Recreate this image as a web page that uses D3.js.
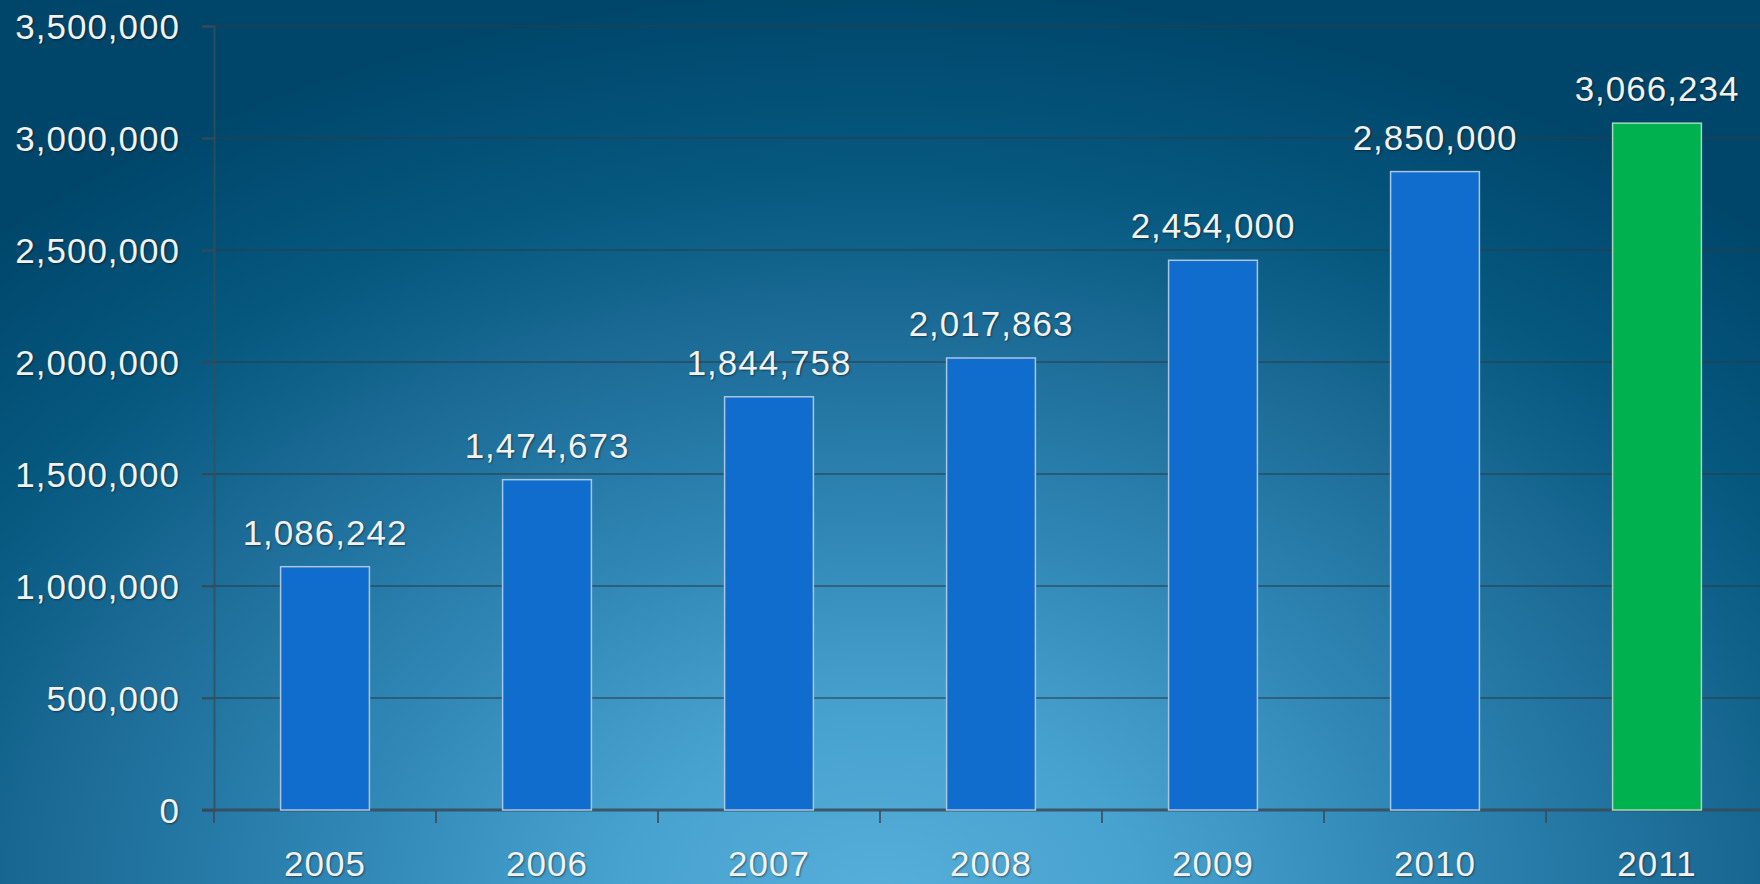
<!DOCTYPE html>
<html>
<head>
<meta charset="utf-8">
<script src="https://cdn.jsdelivr.net/npm/d3@7"></script>
<style>
  html, body { margin: 0; padding: 0; overflow: hidden; background: #0a5880; }
  svg text { font-family: "Liberation Sans", Arial, sans-serif; fill: #f2f2f2; letter-spacing: 1px;
             text-shadow: 1px 1px 2px rgba(0,0,0,0.45); }
</style>
</head>
<body>
<div id="wrapper"></div>
<script>
const years = ["2005", "2006", "2007", "2008", "2009", "2010", "2011"];
const visitors = [1086242, 1474673, 1844758, 2017863, 2454000, 2850000, 3066234];
const yTicks = [0, 500000, 1000000, 1500000, 2000000, 2500000, 3000000, 3500000];

function buildChart() {
    const dimension = {
        width: 1760,
        height: 884,
        margin: { top: 26, left: 214, bottom: 74, right: -8 }
    };
    dimension.boundedWidth = dimension.width - dimension.margin.left - dimension.margin.right;
    dimension.boundedHeight = dimension.height - dimension.margin.top - dimension.margin.bottom;

    const svg = d3.select("#wrapper").append("svg")
        .attr("width", dimension.width)
        .attr("height", dimension.height)
        .style("display", "block");

    // background: light glow at bottom centre fading to navy
    const defs = svg.append("defs");
    const bg = defs.append("radialGradient")
        .attr("id", "bg")
        .attr("gradientUnits", "userSpaceOnUse")
        .attr("cx", 880).attr("cy", 900).attr("r", 1300)
        .attr("gradientTransform", "translate(880,900) scale(1,0.7) translate(-880,-900)");
    [[0, "#56aed9"], [0.2, "#48a2cf"], [0.42, "#2f86b4"], [0.62, "#1d6d98"],
     [0.8, "#06587f"], [1, "#00466b"]].forEach(s =>
        bg.append("stop").attr("offset", s[0]).attr("stop-color", s[1]));
    svg.append("rect").attr("width", dimension.width).attr("height", dimension.height)
        .attr("fill", "url(#bg)");

    const bounded = svg.append("g")
        .attr("transform", `translate(${dimension.margin.left},${dimension.margin.top})`);

    const xScaler = d3.scaleBand()
        .domain(years)
        .range([0, dimension.boundedWidth])
        .paddingInner(0.6)
        .paddingOuter(0.3);

    const yScaler = d3.scaleLinear()
        .domain([0, 3500000])
        .range([dimension.boundedHeight, 0]);

    // gridlines
    bounded.append("g")
        .selectAll("line")
        .data(yTicks.slice(1))
        .join("line")
        .attr("x1", -12).attr("x2", dimension.boundedWidth)
        .attr("y1", d => yScaler(d)).attr("y2", d => yScaler(d))
        .attr("stroke", "rgba(45,60,72,0.55)")
        .attr("stroke-width", 2);

    // y axis
    const yAxis = d3.axisLeft(yScaler)
        .tickValues(yTicks)
        .tickSize(12)
        .tickPadding(22)
        .tickFormat(d3.format(","));
    const yG = bounded.append("g").call(yAxis);
    yG.select(".domain").attr("stroke", "rgba(60,75,85,0.8)").attr("stroke-width", 2);
    yG.selectAll(".tick line").attr("stroke", "rgba(60,75,85,0.8)").attr("stroke-width", 2);
    yG.selectAll(".tick text").style("font-size", "35px").attr("dy", "0.36em");

    // x axis: ticks between categories
    const step = xScaler.step();
    const xG = bounded.append("g")
        .attr("transform", `translate(0,${dimension.boundedHeight})`);
    xG.append("line")
        .attr("x1", -12).attr("x2", dimension.boundedWidth)
        .attr("stroke", "rgba(55,75,88,0.85)").attr("stroke-width", 3);
    xG.selectAll(".sep")
        .data(d3.range(0, years.length + 1))
        .join("line")
        .attr("class", "sep")
        .attr("x1", i => i * step).attr("x2", i => i * step)
        .attr("y1", 0).attr("y2", 13)
        .attr("stroke", "rgba(60,75,85,0.8)").attr("stroke-width", 2);
    xG.selectAll(".yr")
        .data(years)
        .join("text")
        .attr("class", "yr")
        .attr("x", d => xScaler(d) + xScaler.bandwidth() / 2)
        .attr("y", 66)
        .attr("text-anchor", "middle")
        .style("font-size", "35px")
        .text(d => d);

    // bars
    bounded.selectAll(".bar")
        .data(years)
        .join("rect")
        .attr("class", "bar")
        .attr("x", d => xScaler(d))
        .attr("y", (d, i) => yScaler(visitors[i]))
        .attr("width", xScaler.bandwidth())
        .attr("height", (d, i) => dimension.boundedHeight - yScaler(visitors[i]))
        .attr("fill", (d, i) => i === years.length - 1 ? "#00b14f" : "#106ccd")
        .attr("stroke", (d, i) => i === years.length - 1 ? "#a6d8b8" : "#a9c6e2")
        .attr("stroke-width", 1.5);

    // value labels
    bounded.selectAll(".val")
        .data(years)
        .join("text")
        .attr("class", "val")
        .attr("x", d => xScaler(d) + xScaler.bandwidth() / 2)
        .attr("y", (d, i) => yScaler(visitors[i]) - 22)
        .attr("text-anchor", "middle")
        .style("font-size", "35px")
        .text((d, i) => d3.format(",")(visitors[i]));
}

buildChart();
</script>
</body>
</html>
